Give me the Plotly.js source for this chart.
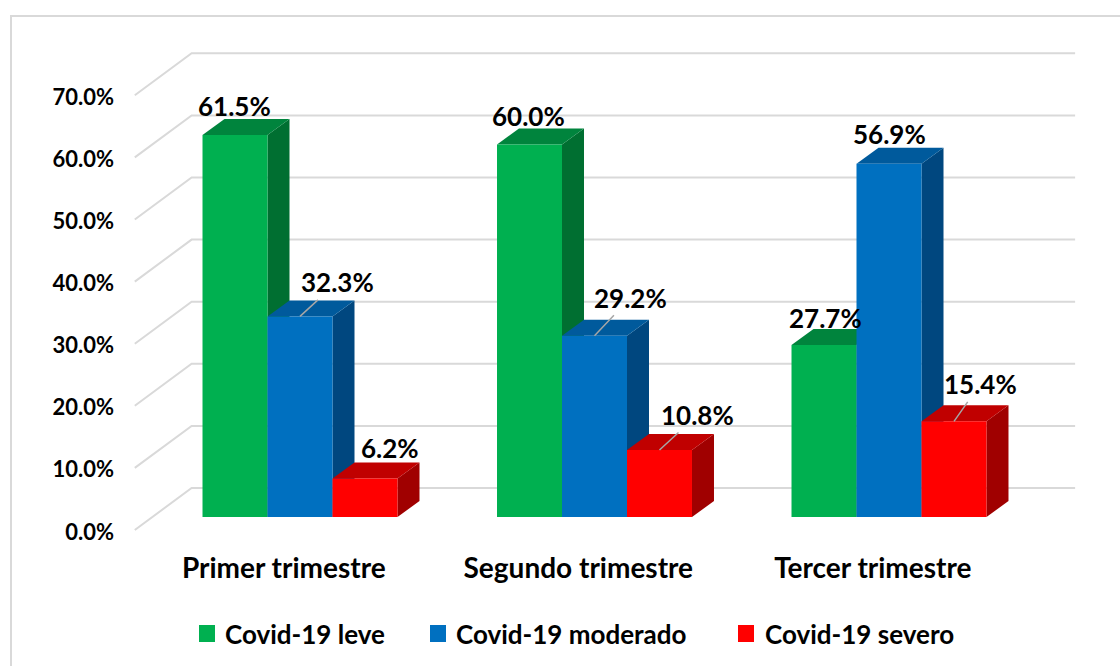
<!DOCTYPE html>
<html>
<head>
<meta charset="utf-8">
<script src="https://cdn.plot.ly/plotly-3.0.1.min.js"></script>
<style>
html,body{margin:0;padding:0;background:#fff;}
#chart{width:1120px;height:666px;}
</style>
</head>
<body>
<div id="chart"></div>
<script>
// ---------- data ----------
const categories = ['Primer trimestre', 'Segundo trimestre', 'Tercer trimestre'];
const seriesNames = ['Covid-19 leve', 'Covid-19 moderado', 'Covid-19 severo'];
const leve = [61.5, 60.0, 27.7];
const moderado = [32.3, 29.2, 56.9];
const severo = [6.2, 10.8, 15.4];
const yTicks = [0, 10, 20, 30, 40, 50, 60, 70];
const yTickLabels = ['0.0%', '10.0%', '20.0%', '30.0%', '40.0%', '50.0%', '60.0%', '70.0%'];

// ---------- style ----------
const seriesValues = [leve, moderado, severo];
const frontColors = ['#00b050', '#0070c0', '#ff0000'];
const topColors = ['#00843d', '#005a9c', '#c00000'];
const sideColors = ['#006f31', '#00477f', '#a00000'];
// label offsets in px (dx right, dy up) relative to front-top centre; leader = draw leader line
const labelOffsets = [
  [[-1, 29, false], [-1, 28, false], [1, 27, false]],
  [[37, 34, true], [36, 38, true], [0, 30, false]],
  [[25, 31, false], [38, 35, true], [26, 37, true]]
];
const FONT = 'Lato, "Open Sans", Arial, sans-serif';
const BAR_W = 0.2207;            // bar width in category units
const DEPTH = {x: 0.0747, y: 2.58};   // bar depth projection (units, %)
const FRONT = {x: -0.061, y: -2.09};  // front floor edge offset
const BACK = {x: 0.132, y: 4.67};     // back wall offset
const WALL = [-0.5, 2.5];
const GRID = '#d9d9d9';

const M = {l: 129, r: 37, t: 45, b: 124};
const PX_X = 294.5, PX_Y = 6.21;
const plotW = 1120 - M.l - M.r, plotH = 666 - M.t - M.b;
const xLo = (M.l - 300) / PX_X, xHi = xLo + plotW / PX_X;
const yLo = (517 - (666 - M.b)) / PX_Y, yHi = yLo + plotH / PX_Y;
const px2paperX = p => (p - M.l) / plotW;
const px2paperY = p => ((666 - M.b) - p) / plotH;

// ---------- traces (front faces) ----------
const traces = seriesValues.map((vals, s) => ({
  type: 'bar',
  name: seriesNames[s],
  x: categories.map((c, i) => i),
  y: vals,
  marker: {color: frontColors[s], line: {width: 0}},
  hoverinfo: 'skip',
  showlegend: false
}));

// ---------- shapes ----------
const shapes = [];
// chart border
shapes.push({type: 'rect', xref: 'paper', yref: 'paper', layer: 'below',
  x0: px2paperX(11), x1: px2paperX(1135), y0: px2paperY(16), y1: px2paperY(690),
  line: {color: GRID, width: 2}, fillcolor: 'rgba(0,0,0,0)'});
// gridlines: side wall diagonals + back wall horizontals
yTicks.forEach(t => {
  shapes.push({type: 'path', xref: 'x', yref: 'y', layer: 'below',
    path: `M${WALL[0] + FRONT.x},${t + FRONT.y} L${WALL[0] + BACK.x},${t + BACK.y} L${WALL[1] + BACK.x},${t + BACK.y}`,
    line: {color: GRID, width: 2}});
});
// 3D top and side faces
categories.forEach((c, i) => {
  seriesValues.forEach((vals, s) => {
    const v = vals[i];
    const xl = i + (s - 1.5) * BAR_W, xr = xl + BAR_W;
    const dx = DEPTH.x, dy = DEPTH.y;
    shapes.push({type: 'path', xref: 'x', yref: 'y', layer: 'below',
      path: `M${xr},0 L${xr},${v} L${xr + dx},${v + dy} L${xr + dx},${dy} Z`,
      fillcolor: sideColors[s], line: {width: 0}});
    shapes.push({type: 'path', xref: 'x', yref: 'y', layer: 'below',
      path: `M${xl},${v} L${xr},${v} L${xr + dx},${v + dy} L${xl + dx},${v + dy} Z`,
      fillcolor: topColors[s], line: {width: 0}});
  });
});

// ---------- annotations ----------
const annotations = [];
seriesValues.forEach((vals, s) => {
  vals.forEach((v, i) => {
    const [ox, oy, leader] = labelOffsets[s][i];
    const xc = i + (s - 1) * BAR_W;
    const base = {x: xc, y: v, xref: 'x', yref: 'y', text: v.toFixed(1) + '%',
      font: {family: FONT, size: 26, color: '#000', weight: 700}};
    if (leader) {
      annotations.push(Object.assign(base, {showarrow: true, ax: ox, ay: -oy,
        arrowhead: 0, arrowwidth: 1.5, arrowcolor: '#a6a6a6', standoff: 0}));
    } else {
      annotations.push(Object.assign(base, {showarrow: false, xshift: ox, yshift: oy}));
    }
  });
});
// legend
const legendSquares = [199, 430, 738];
const legendText = [223, 454, 763];
seriesNames.forEach((n, s) => {
  shapes.push({type: 'rect', xref: 'paper', yref: 'paper',
    x0: px2paperX(legendSquares[s]), x1: px2paperX(legendSquares[s] + 16),
    y0: px2paperY(625), y1: px2paperY(642),
    fillcolor: frontColors[s], line: {width: 0}});
  annotations.push({xref: 'paper', yref: 'paper', x: px2paperX(legendText[s]), y: px2paperY(634),
    xanchor: 'left', yanchor: 'middle', showarrow: false, text: n,
    font: {family: FONT, size: 26, color: '#000', weight: 700}});
});

const layout = {
  width: 1120, height: 666,
  margin: M,
  paper_bgcolor: '#fff', plot_bgcolor: 'rgba(0,0,0,0)',
  barmode: 'group', bargap: 1 - 3 * BAR_W, bargroupgap: 0,
  showlegend: false,
  xaxis: {type: 'linear', range: [xLo, xHi], showgrid: false, zeroline: false, showline: false,
    tickvals: categories.map((c, i) => i + FRONT.x + 0.006), ticktext: categories,
    ticks: '', ticklabelstandoff: 7,
    tickfont: {family: FONT, size: 28, color: '#000', weight: 700}},
  yaxis: {range: [yLo, yHi], showgrid: false, zeroline: false, showline: false,
    tickvals: yTicks.map(t => t + FRONT.y - 0.3), ticktext: yTickLabels,
    ticks: '', ticklabelstandoff: 14,
    tickfont: {family: FONT, size: 22, color: '#000', weight: 700}},
  shapes: shapes,
  annotations: annotations
};

Plotly.newPlot('chart', traces, layout, {displayModeBar: false, staticPlot: true});
</script>
</body>
</html>
